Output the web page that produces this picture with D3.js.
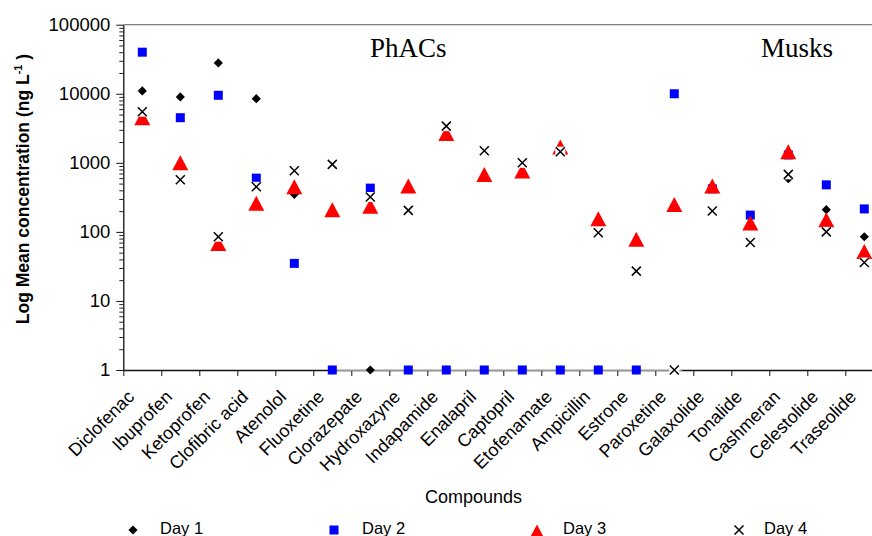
<!DOCTYPE html>
<html><head><meta charset="utf-8">
<script src="https://cdn.jsdelivr.net/npm/d3@7"></script>
<style>body{margin:0;background:#fff}svg{display:block}</style>
</head><body><svg id="c" width="872" height="536" font-family="Arial, 'Liberation Sans', sans-serif"></svg>
<script>
const categories = ["Diclofenac","Ibuprofen","Ketoprofen","Clofibric acid","Atenolol","Fluoxetine","Clorazepate","Hydroxazyne","Indapamide","Enalapril","Captopril","Etofenamate","Ampicillin","Estrone","Paroxetine","Galaxolide","Tonalide","Cashmeran","Celestolide","Traseolide"];
const day1 = [11000, 9000, 28000, 8500, 350, 1, 1, 1, 1, 1, 1, 1, 1, 1, null, 430, null, 590, 210, 85];
const day2 = [40000, 4500, 9500, 600, 35, 1, 430, 1, 1, 1, 1, 1, 1, 1, 10000, 420, 175, 1300, 480, 215];
const day3 = [4500, 1000, 68, 260, 450, 210, 235, 460, 2650, 680, 760, 1700, 155, 78, 250, 460, 135, 1450, 150, 52];
const day4 = [5500, 570, 85, 450, 770, 950, 320, 205, 3400, 1500, 1000, 1450, 97, 27, 1, 200, 70, 680, 100, 36];
const seriesNames = ["Day 1","Day 2","Day 3","Day 4"];
const yTicks = [1, 10, 100, 1000, 10000, 100000];
const groupLabels = ["PhACs", "Musks"];

const svg = d3.select("#c");
const pLeft = 123.3, pRight = 883.3, pTop = 24.7, pBottom = 370;
const x = d3.scaleBand().domain(categories).range([pLeft, pRight]);
const bw = x.bandwidth();
const cx = c => x(c) + bw / 2;
const y = d3.scaleLog().domain([1, 100000]).range([pBottom, pTop]);

const shapes = {
  diamond: s => `M0,${-s}L${s},0L0,${s}L${-s},0Z`,
  square: s => `M${-s},${-s}H${s}V${s}H${-s}Z`,
  triangle: () => `M0,-7.5L8,7.5L-8,7.5Z`
};
function drawMarker(g, type) {
  if (type === 0) g.append("path").attr("d", shapes.diamond(4.6)).attr("fill", "#000");
  else if (type === 1) g.append("path").attr("d", shapes.square(4.5)).attr("fill", "#0000ff");
  else if (type === 2) g.append("path").attr("d", shapes.triangle()).attr("fill", "#ff0000");
  else {
    g.append("rect").attr("x", -5).attr("y", -5).attr("width", 10).attr("height", 10).attr("fill", "#fff");
    g.append("path").attr("d", "M-4.5,-4.5L4.5,4.5M-4.5,4.5L4.5,-4.5").attr("stroke", "#000").attr("stroke-width", 1.5).attr("fill", "none");
  }
}

svg.append("line").attr("x1", pLeft).attr("x2", pRight).attr("y1", pTop).attr("y2", pTop)
  .attr("stroke", "#808080").attr("stroke-width", 1.3);

const minor = [];
for (let e = 0; e < 5; e++) for (let m = 2; m <= 9; m++) minor.push(m * Math.pow(10, e));
const yMinor = svg.append("g").attr("transform", `translate(${pLeft},0)`)
  .call(d3.axisLeft(y).tickValues(minor).tickSize(4).tickFormat(""));
yMinor.select(".domain").remove();
yMinor.selectAll("line").attr("stroke", "#222");
const yAx = svg.append("g").attr("transform", `translate(${pLeft},0)`)
  .call(d3.axisLeft(y).tickValues(yTicks).tickSize(7).tickSizeOuter(0).tickPadding(6).tickFormat(d3.format("d")));
yAx.attr("font-family", null).attr("font-size", null);
yAx.select(".domain").attr("stroke", "#111").attr("stroke-width", 1.3);
yAx.selectAll("line").attr("stroke", "#111");
yAx.selectAll("text").attr("font-size", "18.5px").attr("fill", "#000");

const xi = d3.scaleLinear().domain([0, categories.length]).range([pLeft, pRight]);
const xAx = svg.append("g").attr("transform", `translate(0,${pBottom})`)
  .call(d3.axisBottom(xi).tickValues(d3.range(categories.length + 1)).tickSize(6).tickSizeOuter(0).tickFormat(""));
xAx.select(".domain").attr("stroke", "#111").attr("stroke-width", 1.3);
xAx.selectAll("line").attr("stroke", "#111");
svg.append("line").attr("x1", cx("Fluoxetine")).attr("x2", cx("Paroxetine") + 8)
  .attr("y1", pBottom).attr("y2", pBottom).attr("stroke", "#c8c8c8").attr("stroke-width", 1.4);

svg.append("g").selectAll("text").data(categories).join("text")
  .attr("transform", d => `translate(${cx(d) - 7},${pBottom + 28}) rotate(-45)`)
  .attr("text-anchor", "end").attr("font-size", "18px").attr("fill", "#000").text(d => d);

svg.append("text").attr("x", 473.5).attr("y", 503).attr("text-anchor", "middle")
  .attr("font-size", "18px").attr("fill", "#000").text("Compounds");
const yt = svg.append("text").attr("transform", "translate(28.5,189) rotate(-90)")
  .attr("text-anchor", "middle").attr("font-size", "17.5px").attr("font-weight", "bold").attr("fill", "#000");
yt.append("tspan").text("Log Mean concentration (ng L");
yt.append("tspan").attr("font-size", "11px").attr("dy", "-7").text("-1");
yt.append("tspan").attr("dy", "7").text(" )");

svg.append("text").attr("x", 370).attr("y", 57).attr("font-family", "'Liberation Serif','Times New Roman',serif")
  .attr("font-size", "27px").attr("fill", "#000").text(groupLabels[0]);
svg.append("text").attr("x", 761).attr("y", 57).attr("font-family", "'Liberation Serif','Times New Roman',serif")
  .attr("font-size", "27px").attr("fill", "#000").text(groupLabels[1]);

const series = [day1, day2, day3, day4];
series.forEach((vals, si) => {
  const g = svg.append("g");
  categories.forEach((c, i) => {
    const v = vals[i];
    if (v == null) return;
    const m = g.append("g").attr("transform", `translate(${cx(c)},${y(v)})`);
    drawMarker(m, si);
  });
});

const legX = [133, 334, 537, 739];
const legTextX = [160, 362, 563, 764];
seriesNames.forEach((n, i) => {
  const m = svg.append("g").attr("transform", `translate(${legX[i]},${i === 2 ? 532 : 530})`);
  drawMarker(m, i);
  svg.append("text").attr("x", legTextX[i]).attr("y", 534).attr("font-size", "16.5px").attr("fill", "#000").text(n);
});
</script></body></html>
